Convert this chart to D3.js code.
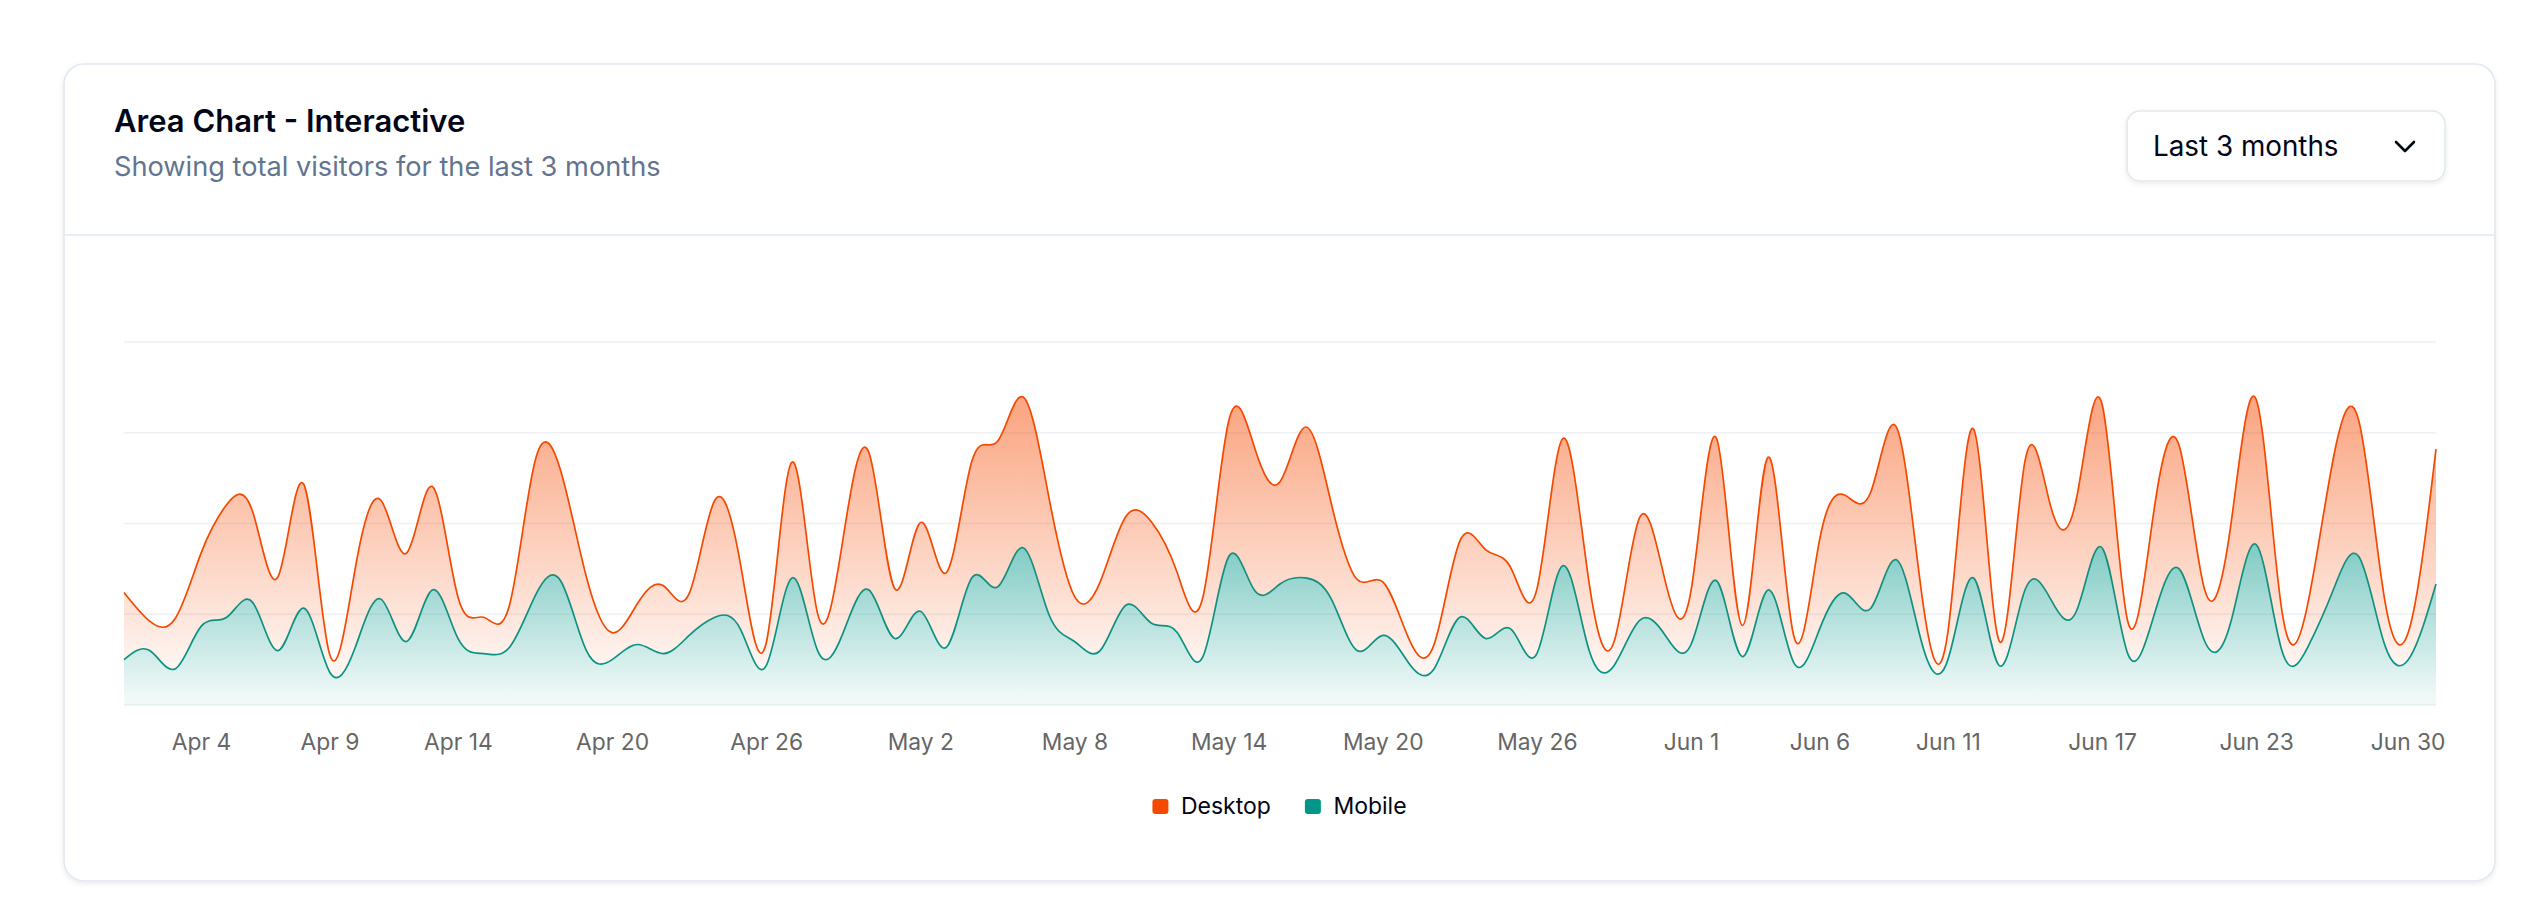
<!DOCTYPE html>
<html>
<head>
<meta charset="utf-8">
<script src="https://cdn.jsdelivr.net/npm/d3@7"></script>
<style>
  html, body { margin: 0; padding: 0; background: #fff; }
  svg { display: block; font-family: Inter, "Noto Sans", sans-serif; }
</style>
</head>
<body>
<svg id="chart" width="2528" height="914"></svg>
<script>
// visitors per day (stacked: mobile below, desktop on top)
const dates = [
  "2024-04-01","2024-04-02","2024-04-03","2024-04-04","2024-04-05","2024-04-06","2024-04-07","2024-04-08","2024-04-09","2024-04-10",
  "2024-04-11","2024-04-12","2024-04-13","2024-04-14","2024-04-15","2024-04-16","2024-04-17","2024-04-18","2024-04-19","2024-04-20",
  "2024-04-21","2024-04-22","2024-04-23","2024-04-24","2024-04-25","2024-04-26","2024-04-27","2024-04-28","2024-04-29","2024-04-30",
  "2024-05-01","2024-05-02","2024-05-03","2024-05-04","2024-05-05","2024-05-06","2024-05-07","2024-05-08","2024-05-09","2024-05-10",
  "2024-05-11","2024-05-12","2024-05-13","2024-05-14","2024-05-15","2024-05-16","2024-05-17","2024-05-18","2024-05-19","2024-05-20",
  "2024-05-21","2024-05-22","2024-05-23","2024-05-24","2024-05-25","2024-05-26","2024-05-27","2024-05-28","2024-05-29","2024-05-30",
  "2024-05-31","2024-06-01","2024-06-02","2024-06-03","2024-06-04","2024-06-05","2024-06-06","2024-06-07","2024-06-08","2024-06-09",
  "2024-06-10","2024-06-11","2024-06-12","2024-06-13","2024-06-14","2024-06-15","2024-06-16","2024-06-17","2024-06-18","2024-06-19",
  "2024-06-20","2024-06-21","2024-06-22","2024-06-23","2024-06-24","2024-06-25","2024-06-26","2024-06-27","2024-06-28","2024-06-29",
  "2024-06-30"
];
const desktop = [
  222, 97, 167, 242, 373, 301, 245, 409, 59, 261,
  327, 292, 342, 137, 120, 138, 446, 364, 243, 89,
  137, 224, 138, 387, 215, 75, 383, 122, 315, 454,
  165, 293, 247, 385, 481, 498, 388, 149, 227, 293,
  335, 197, 197, 448, 473, 338, 499, 315, 235, 177,
  82, 81, 252, 294, 201, 213, 420, 233, 78, 340,
  178, 178, 470, 103, 439, 88, 294, 323, 385, 438,
  155, 92, 492, 81, 426, 307, 371, 475, 107, 341,
  408, 169, 317, 480, 132, 141, 434, 448, 149, 103,
  446
];
const mobile = [
  150, 180, 120, 260, 290, 340, 180, 320, 110, 190,
  350, 210, 380, 220, 170, 190, 360, 410, 180, 150,
  200, 170, 230, 290, 250, 130, 420, 180, 240, 380,
  220, 310, 190, 420, 390, 520, 300, 210, 180, 330,
  270, 240, 160, 490, 380, 400, 420, 350, 180, 230,
  140, 120, 290, 220, 250, 170, 460, 190, 130, 280,
  230, 200, 410, 160, 380, 140, 250, 370, 320, 480,
  200, 150, 420, 130, 380, 350, 310, 520, 170, 290,
  450, 210, 270, 530, 180, 190, 380, 490, 200, 160,
  400
];
const tickDates = [
  "2024-04-04","2024-04-09","2024-04-14","2024-04-20","2024-04-26","2024-05-02","2024-05-08","2024-05-14",
  "2024-05-20","2024-05-26","2024-06-01","2024-06-06","2024-06-11","2024-06-17","2024-06-23","2024-06-30"
];
const yTicks = [0, 300, 600, 900, 1200];
const seriesKeys = ["mobile", "desktop"];
const seriesLabels = {desktop: "Desktop", mobile: "Mobile"};
const colors = {desktop: "#f54900", mobile: "#009689"};

const svg = d3.select("#chart");
const fg = "#020618";
const borderColor = "#e2e8f0";

const defs = svg.append("defs");
const shadow = defs.append("filter").attr("id", "shadow")
  .attr("x", "-5%").attr("y", "-5%").attr("width", "110%").attr("height", "115%");
shadow.append("feDropShadow").attr("dx", 0).attr("dy", 2).attr("stdDeviation", 2.5)
  .attr("flood-color", "#0f172a").attr("flood-opacity", 0.08);

for (const key of seriesKeys) {
  const g = defs.append("linearGradient").attr("id", `fill-${key}`)
    .attr("x1", 0).attr("y1", 0).attr("x2", 0).attr("y2", 1);
  g.append("stop").attr("offset", "5%").attr("stop-color", colors[key]).attr("stop-opacity", 0.8);
  g.append("stop").attr("offset", "95%").attr("stop-color", colors[key]).attr("stop-opacity", 0.1);
}

// card
const card = {x: 64, y: 64, w: 2431, h: 817};
svg.append("rect")
  .attr("x", card.x).attr("y", card.y).attr("width", card.w).attr("height", card.h)
  .attr("rx", 20).attr("fill", "#fff")
  .attr("stroke", borderColor).attr("stroke-width", 1.6)
  .attr("filter", "url(#shadow)");

svg.append("line")
  .attr("x1", card.x).attr("x2", card.x + card.w)
  .attr("y1", 235).attr("y2", 235)
  .attr("stroke", borderColor).attr("stroke-width", 1.6);

svg.append("text")
  .attr("x", 114).attr("y", 132)
  .attr("font-size", 31).attr("font-weight", 600).attr("fill", fg)
  .text("Area Chart - Interactive");

svg.append("text")
  .attr("x", 114).attr("y", 176)
  .attr("font-size", 27.2).attr("fill", "#62748e")
  .text("Showing total visitors for the last 3 months");

// range select
const sel = svg.append("g");
sel.append("rect")
  .attr("x", 2127).attr("y", 111).attr("width", 318).attr("height", 70)
  .attr("rx", 13).attr("fill", "#fff")
  .attr("stroke", borderColor).attr("stroke-width", 1.6)
  .attr("filter", "url(#shadow)");
sel.append("text")
  .attr("x", 2153).attr("y", 156)
  .attr("font-size", 27.8).attr("fill", fg)
  .text("Last 3 months");
sel.append("path")
  .attr("d", "M2396,142 L2405,151 L2414,142")
  .attr("fill", "none").attr("stroke", fg).attr("stroke-width", 2.6)
  .attr("stroke-linecap", "round").attr("stroke-linejoin", "round");

// chart
const plot = {left: 124, right: 2436, top: 342, bottom: 705};
const x = d3.scalePoint().domain(dates).range([plot.left, plot.right]);
const y = d3.scaleLinear().domain([0, 1200]).range([plot.bottom, plot.top]);

svg.append("g")
  .selectAll("line")
  .data(yTicks)
  .join("line")
    .attr("x1", plot.left).attr("x2", plot.right)
    .attr("y1", d => y(d)).attr("y2", d => y(d))
    .attr("stroke", "#edf0f4").attr("stroke-width", 1.6);

const rows = dates.map((date, i) => ({date, desktop: desktop[i], mobile: mobile[i]}));
const stacked = d3.stack().keys(seriesKeys)(rows);

const area = d3.area()
  .curve(d3.curveNatural)
  .x(d => x(d.data.date))
  .y0(d => y(d[0]))
  .y1(d => y(d[1]));
const line = d3.line()
  .curve(d3.curveNatural)
  .x(d => x(d.data.date))
  .y(d => y(d[1]));

const layers = svg.append("g")
  .selectAll("g")
  .data(stacked)
  .join("g");
layers.append("path")
  .attr("d", area)
  .attr("fill", d => `url(#fill-${d.key})`)
  .attr("fill-opacity", 0.6);
layers.append("path")
  .attr("d", line)
  .attr("fill", "none")
  .attr("stroke", d => colors[d.key])
  .attr("stroke-width", 1.7);

const parse = d3.timeParse("%Y-%m-%d");
const fmt = d3.timeFormat("%b %-d");
const axis = svg.append("g")
  .attr("transform", `translate(0,${plot.bottom})`)
  .call(d3.axisBottom(x).tickValues(tickDates).tickSize(0).tickFormat(d => fmt(parse(d))));
axis.select(".domain").remove();
axis.selectAll("text")
  .attr("dy", null).attr("y", 45)
  .attr("font-family", "Inter, 'Noto Sans', sans-serif")
  .attr("font-size", 22.8).attr("fill", "#666");
// keep the last label inside the chart like the original does
const maxRight = 2445;
axis.selectAll(".tick").each(function(d) {
  const t = d3.select(this).select("text");
  const w = t.node().getComputedTextLength();
  const cx = x(d);
  if (cx + w / 2 > maxRight) t.attr("x", maxRight - w / 2 - cx);
});

// legend
const legend = svg.append("g");
const legendKeys = ["desktop", "mobile"];
let lx = 0;
legendKeys.forEach(key => {
  const g = legend.append("g");
  g.append("rect").attr("x", 0).attr("y", 799).attr("width", 16).attr("height", 15)
    .attr("rx", 3).attr("fill", colors[key]);
  const t = g.append("text").attr("x", 28.5).attr("y", 813.5)
    .attr("font-size", 23).attr("fill", fg).text(seriesLabels[key]);
  const w = 28.5 + t.node().getComputedTextLength();
  g.attr("transform", `translate(${lx},0)`);
  lx += w + 34;
});
const legendWidth = lx - 34;
legend.attr("transform", `translate(${(card.x + card.w / 2) - legendWidth / 2},0)`);
</script>
</body>
</html>
